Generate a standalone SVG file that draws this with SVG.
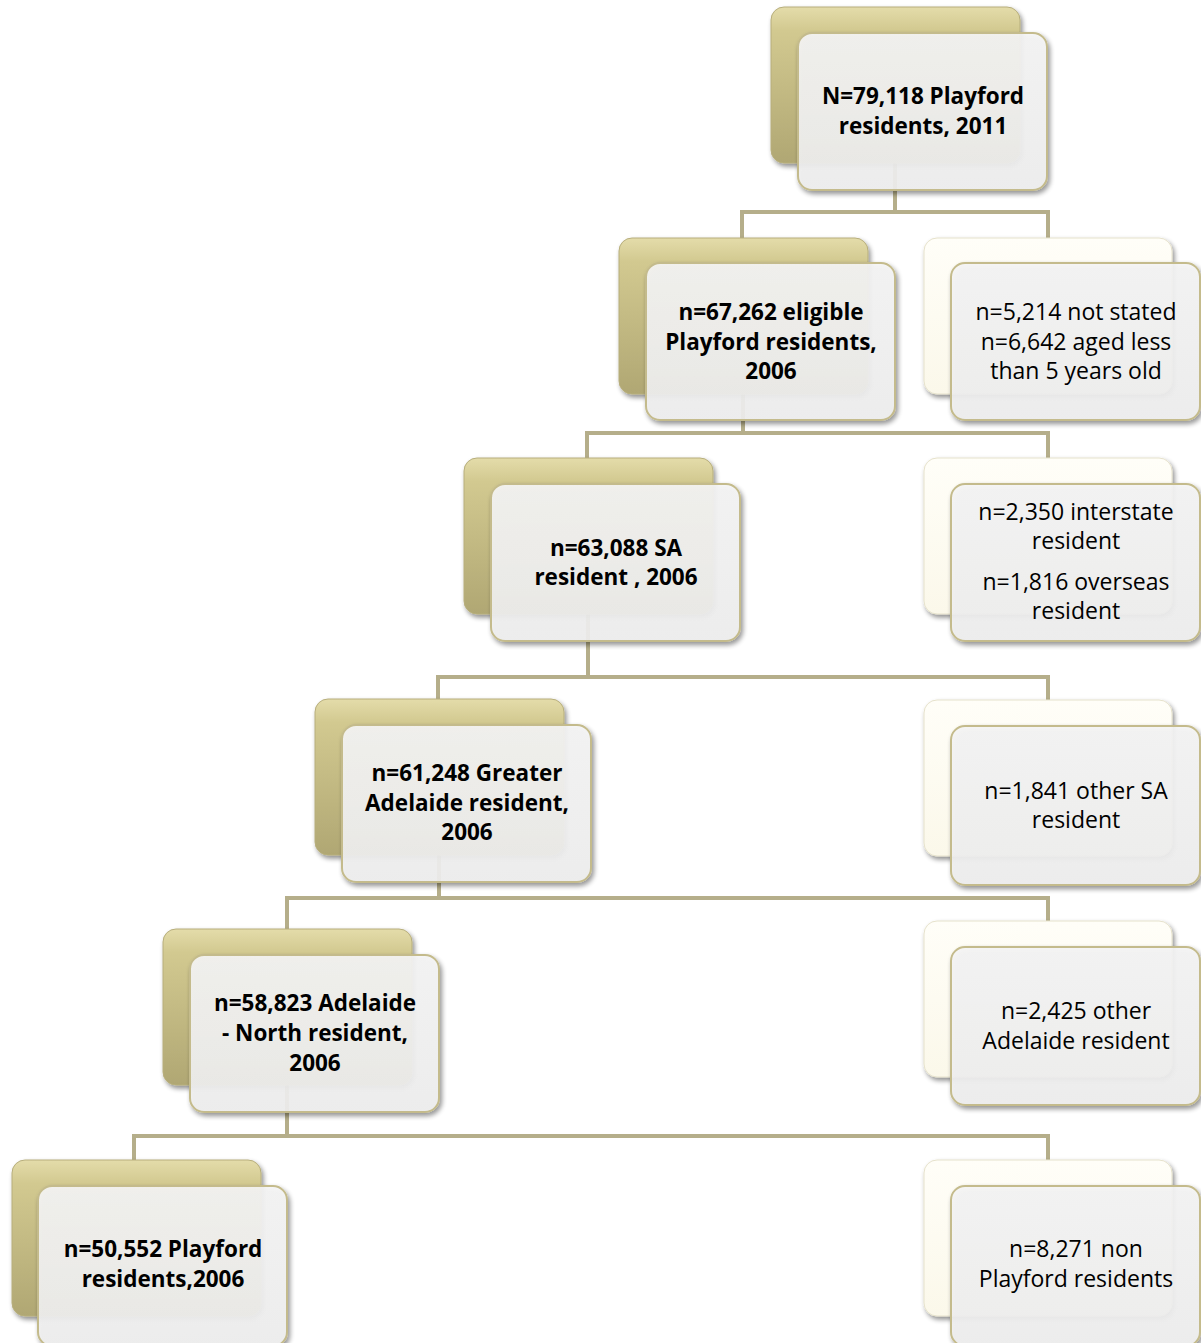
<svg xmlns="http://www.w3.org/2000/svg" width="1201" height="1343" viewBox="0 0 1201 1343">
<defs>
<linearGradient id="gBack" x1="0" y1="0" x2="0" y2="1">
<stop offset="0" stop-color="#e4dcaa"/>
<stop offset="0.15" stop-color="#d2c990"/>
<stop offset="1" stop-color="#b0a773"/>
</linearGradient>
<linearGradient id="gCream" x1="0" y1="0" x2="0" y2="1">
<stop offset="0" stop-color="#fffef8"/>
<stop offset="1" stop-color="#fbf8ea"/>
</linearGradient>
<linearGradient id="gFront" x1="0" y1="0" x2="0" y2="1">
<stop offset="0" stop-color="#f6f6f6"/>
<stop offset="1" stop-color="#f0f0f0"/>
</linearGradient>
<filter id="sh" x="-10%" y="-10%" width="125%" height="125%">
<feGaussianBlur in="SourceAlpha" stdDeviation="2.5"/>
<feOffset dx="2" dy="3" result="b"/>
<feComponentTransfer><feFuncA type="linear" slope="0.45"/></feComponentTransfer>
<feMerge><feMergeNode/><feMergeNode in="SourceGraphic"/></feMerge>
</filter>
</defs>
<style>
.back{fill:url(#gBack);stroke:#b7ae7c;stroke-width:1;filter:url(#sh)}
.cream{fill:url(#gCream);stroke:#e6e2cc;stroke-width:1;filter:url(#sh)}
.front{fill:url(#gFront);fill-opacity:0.9;stroke:#c4bb8c;stroke-width:2;filter:url(#sh)}
.conn{fill:none;stroke:#b5ae8a;stroke-width:4;stroke-linejoin:miter}
.b{font-family:"Open Sans","Liberation Sans",sans-serif;font-weight:bold;font-size:22.5px;fill:#000;text-anchor:middle}
.r{font-family:"Open Sans","Liberation Sans",sans-serif;font-size:23px;fill:#000;text-anchor:middle}
</style>
<g id="connectors">
<polyline class="conn" points="895,163 895,212 742,212 742,240"/>
<polyline class="conn" points="895,212 1048,212 1048,240"/>
<polyline class="conn" points="743,394 743,433 587,433 587,460"/>
<polyline class="conn" points="743,433 1048,433 1048,460"/>
<polyline class="conn" points="588,614 588,677 438,677 438,701"/>
<polyline class="conn" points="588,677 1048,677 1048,701"/>
<polyline class="conn" points="439,855 439,898 287,898 287,931"/>
<polyline class="conn" points="439,898 1048,898 1048,922"/>
<polyline class="conn" points="287,1085 287,1136 134,1136 134,1162"/>
<polyline class="conn" points="287,1136 1048,1136 1048,1162"/>
</g>
<g id="n1">
<rect class="back" x="771" y="7" width="249" height="156" rx="13"/>
<rect class="front" x="798" y="33" width="249" height="157" rx="14"/>
<text class="b" x="923" y="104">N=79,118 Playford</text>
<text class="b" x="923" y="134">residents, 2011</text>
</g>
<g id="n2">
<rect class="back" x="619" y="238" width="249" height="156" rx="13"/>
<rect class="front" x="646" y="263" width="249" height="157" rx="14"/>
<text class="b" x="771" y="320">n=67,262 eligible</text>
<text class="b" x="771" y="350">Playford residents,</text>
<text class="b" x="771" y="379">2006</text>
</g>
<g id="n2r">
<rect class="cream" x="924" y="238" width="248" height="156" rx="13"/>
<rect class="front" x="951" y="263" width="249" height="157" rx="14"/>
<text class="r" x="1076" y="320">n=5,214 not stated</text>
<text class="r" x="1076" y="350">n=6,642 aged less</text>
<text class="r" x="1076" y="379">than 5 years old</text>
</g>
<g id="n3">
<rect class="back" x="464" y="458" width="249" height="156" rx="13"/>
<rect class="front" x="491" y="484" width="249" height="157" rx="14"/>
<text class="b" x="616" y="556">n=63,088 SA</text>
<text class="b" x="616" y="585">resident , 2006</text>
</g>
<g id="n3r">
<rect class="cream" x="924" y="458" width="248" height="156" rx="13"/>
<rect class="front" x="951" y="484" width="249" height="157" rx="14"/>
<text class="r" x="1076" y="520">n=2,350 interstate</text>
<text class="r" x="1076" y="549">resident</text>
<text class="r" x="1076" y="590">n=1,816 overseas</text>
<text class="r" x="1076" y="619">resident</text>
</g>
<g id="n4">
<rect class="back" x="315" y="699" width="249" height="156" rx="13"/>
<rect class="front" x="342" y="725" width="249" height="157" rx="14"/>
<text class="b" x="467" y="781">n=61,248 Greater</text>
<text class="b" x="467" y="811">Adelaide resident,</text>
<text class="b" x="467" y="840">2006</text>
</g>
<g id="n4r">
<rect class="cream" x="924" y="700" width="248" height="156" rx="13"/>
<rect class="front" x="951" y="726" width="249" height="159" rx="14"/>
<text class="r" x="1076" y="799">n=1,841 other SA</text>
<text class="r" x="1076" y="828">resident</text>
</g>
<g id="n5">
<rect class="back" x="163" y="929" width="249" height="156" rx="13"/>
<rect class="front" x="190" y="955" width="249" height="157" rx="14"/>
<text class="b" x="315" y="1011">n=58,823 Adelaide</text>
<text class="b" x="315" y="1041">- North resident,</text>
<text class="b" x="315" y="1071">2006</text>
</g>
<g id="n5r">
<rect class="cream" x="924" y="921" width="248" height="156" rx="13"/>
<rect class="front" x="951" y="947" width="249" height="158" rx="14"/>
<text class="r" x="1076" y="1019">n=2,425 other</text>
<text class="r" x="1076" y="1049">Adelaide resident</text>
</g>
<g id="n6">
<rect class="back" x="12" y="1160" width="249" height="156" rx="13"/>
<rect class="front" x="38" y="1186" width="249" height="160" rx="14"/>
<text class="b" x="163" y="1257">n=50,552 Playford</text>
<text class="b" x="163" y="1287">residents,2006</text>
</g>
<g id="n6r">
<rect class="cream" x="924" y="1160" width="248" height="156" rx="13"/>
<rect class="front" x="951" y="1186" width="249" height="160" rx="14"/>
<text class="r" x="1076" y="1257">n=8,271 non</text>
<text class="r" x="1076" y="1287">Playford residents</text>
</g>
</svg>
